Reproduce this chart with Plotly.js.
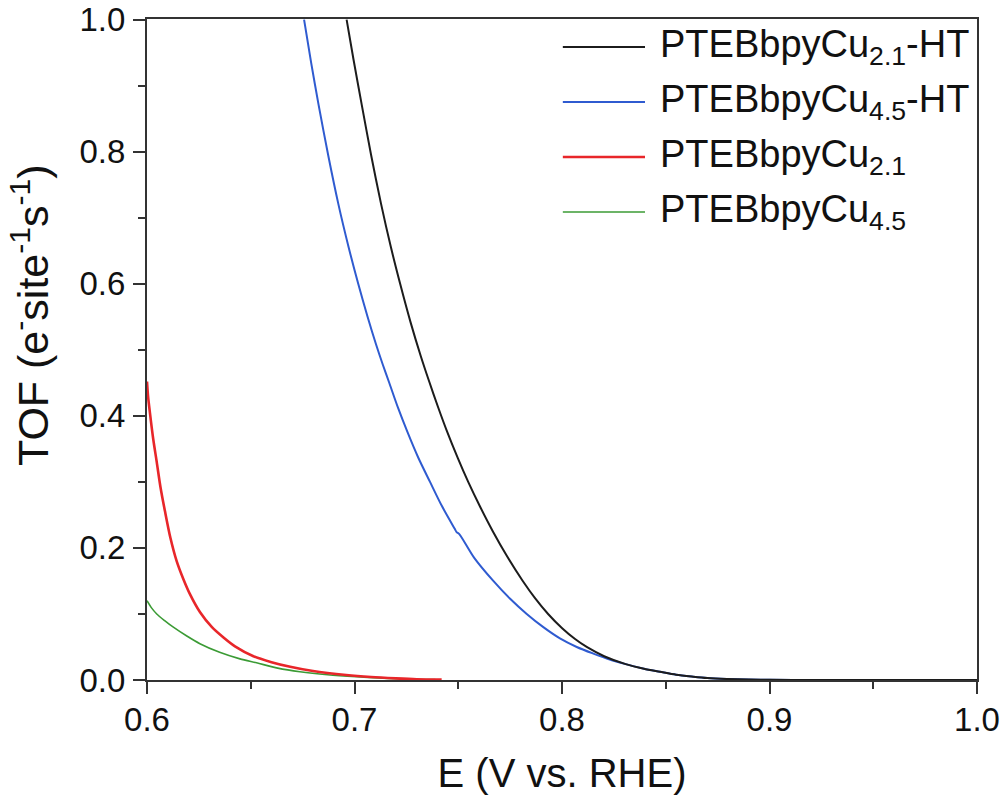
<!DOCTYPE html>
<html>
<head>
<meta charset="utf-8">
<script src="https://cdn.plot.ly/plotly-3.0.1.min.js"></script>
<style>html,body{margin:0;padding:0;background:#fff;}#chart{width:1000px;height:800px;}</style>
</head>
<body>
<div id="chart"></div>
<script>
// Series names (legend labels)
const seriesNames = [
  'PTEBbpyCu<sub>2.1</sub>-HT',
  'PTEBbpyCu<sub>4.5</sub>-HT',
  'PTEBbpyCu<sub>2.1</sub>',
  'PTEBbpyCu<sub>4.5</sub>'
];
const seriesColors = ['#1c1c1c', '#2f5bd0', '#e8262a', '#3b9b35'];
const xTitle = 'E (V vs. RHE)';
const yTitle = 'TOF (e<sup>-</sup>site<sup>-1</sup>s<sup>-1</sup>)';

// PTEBbpyCu2.1-HT
const eHT21 = [0.6962, 0.6995, 0.7035, 0.7080, 0.7128, 0.7175, 0.7220, 0.7270, 0.7320, 0.7360, 0.7403, 0.7444, 0.7498, 0.7548, 0.7606, 0.7667, 0.7736, 0.7811, 0.7870, 0.7933, 0.8002, 0.8063, 0.8119, 0.8203, 0.8307, 0.8395, 0.8472, 0.8550, 0.8633, 0.8700, 0.8794, 0.8900, 0.9000, 0.9200, 0.9500, 1.0000];
const tofHT21 = [1.000, 0.940, 0.871, 0.795, 0.721, 0.656, 0.600, 0.542, 0.490, 0.452, 0.413, 0.378, 0.336, 0.300, 0.262, 0.225, 0.187, 0.150, 0.124, 0.100, 0.078, 0.062, 0.050, 0.036, 0.024, 0.017, 0.0125, 0.008, 0.005, 0.003, 0.0015, 0.0006, 0.0003, 0.0001, 0.0, 0.0];

// PTEBbpyCu4.5-HT
const eHT45 = [0.6757, 0.6791, 0.6827, 0.6873, 0.6922, 0.6972, 0.7018, 0.7063, 0.7104, 0.7137, 0.7167, 0.7210, 0.7256, 0.7307, 0.7364, 0.7422, 0.7483, 0.7492, 0.7505, 0.7577, 0.7669, 0.7750, 0.7830, 0.7910, 0.7990, 0.8071, 0.8151, 0.8230, 0.8307, 0.8395, 0.8472, 0.8550, 0.8633, 0.8700, 0.8794, 0.8900, 0.9000, 0.9200, 0.9500, 1.0000];
const tofHT45 = [1.000, 0.935, 0.871, 0.795, 0.721, 0.655, 0.600, 0.550, 0.508, 0.477, 0.4505, 0.412, 0.375, 0.337, 0.300, 0.263, 0.229, 0.224, 0.221, 0.185, 0.150, 0.123, 0.100, 0.080, 0.063, 0.050, 0.040, 0.031, 0.024, 0.017, 0.0125, 0.008, 0.005, 0.003, 0.0015, 0.0006, 0.0003, 0.0001, 0.0, 0.0];

// PTEBbpyCu2.1
const e21 = [0.6000, 0.6005, 0.6014, 0.6030, 0.6047, 0.6065, 0.6087, 0.6113, 0.6143, 0.6175, 0.6207, 0.6255, 0.6313, 0.6370, 0.6424, 0.6513, 0.6600, 0.6690, 0.6800, 0.6960, 0.7080, 0.7200, 0.7300, 0.7420];
const tof21 = [0.452, 0.430, 0.405, 0.365, 0.330, 0.292, 0.255, 0.215, 0.180, 0.153, 0.130, 0.103, 0.080, 0.064, 0.051, 0.036, 0.027, 0.020, 0.0135, 0.0075, 0.0045, 0.0025, 0.0012, 0.0005];

// PTEBbpyCu4.5
const e45 = [0.6000, 0.6020, 0.6047, 0.6085, 0.6127, 0.6190, 0.6255, 0.6350, 0.6448, 0.6528, 0.6630, 0.6737, 0.6870, 0.7010, 0.7200, 0.7390];
const tof45 = [0.120, 0.110, 0.100, 0.090, 0.080, 0.067, 0.055, 0.042, 0.032, 0.026, 0.018, 0.0125, 0.008, 0.005, 0.002, 0.0005];

// Axis ticks
const xTickVals = [0.6, 0.7, 0.8, 0.9, 1.0];
const xTickText = ['0.6', '0.7', '0.8', '0.9', '1.0'];
const yTickVals = [0.0, 0.2, 0.4, 0.6, 0.8, 1.0];
const yTickText = ['0.0', '0.2', '0.4', '0.6', '0.8', '1.0'];

const lineWidths = [2, 2, 2.6, 1.6];
const FONT = 'Liberation Sans, Arial, sans-serif';

const traces = [
  {x: e45, y: tof45, idx: 3},
  {x: e21, y: tof21, idx: 2},
  {x: eHT45, y: tofHT45, idx: 1},
  {x: eHT21, y: tofHT21, idx: 0}
].map(s => ({
  type: 'scatter', mode: 'lines', x: s.x, y: s.y,
  name: seriesNames[s.idx],
  line: {color: seriesColors[s.idx], width: lineWidths[s.idx], shape: 'spline', smoothing: 0.8},
  showlegend: false, hoverinfo: 'x+y'
}));

// Manual legend (long line samples like the original)
const legendRowsY = [0.9576, 0.8744, 0.7912, 0.7080];
const shapes = [];
const annotations = [];
seriesNames.forEach((nm, i) => {
  shapes.push({type: 'line', xref: 'paper', yref: 'paper', x0: 0.501, x1: 0.600, y0: legendRowsY[i], y1: legendRowsY[i],
    line: {color: seriesColors[i], width: lineWidths[i]}});
  annotations.push({xref: 'paper', yref: 'paper', x: 0.616, y: legendRowsY[i], xanchor: 'left', yanchor: 'middle',
    text: nm, showarrow: false, font: {family: FONT, size: 38, color: '#111'}});
});
// y-axis title (placed as in the original, slightly above centre)
annotations.push({xref: 'paper', yref: 'paper', x: -0.141, y: 0.552, xanchor: 'center', yanchor: 'middle',
  textangle: -90, text: yTitle, showarrow: false, font: {family: FONT, size: 43, color: '#111'}});

const axisCommon = {
  showline: true, linecolor: '#333', linewidth: 2, mirror: true,
  ticks: 'outside', ticklen: 12, tickwidth: 2, tickcolor: '#333',
  showgrid: false, zeroline: false, ticklabeloverflow: 'allow',
  tickfont: {family: FONT, size: 33, color: '#111'}
};

const layout = {
  width: 1000, height: 800,
  margin: {l: 147, r: 23, t: 19, b: 120, pad: 0},
  paper_bgcolor: '#ffffff', plot_bgcolor: '#ffffff',
  xaxis: Object.assign({}, axisCommon, {
    range: [0.6, 1.0], tickvals: xTickVals, ticktext: xTickText,
    ticklabelstandoff: -3,
    minor: {dtick: 0.05, tick0: 0.6, ticks: 'outside', ticklen: 7, tickwidth: 2, tickcolor: '#333', showgrid: false},
    title: {text: xTitle, standoff: 22, font: {family: FONT, size: 40, color: '#111'}}
  }),
  yaxis: Object.assign({}, axisCommon, {
    range: [0, 1.001], tickvals: yTickVals, ticktext: yTickText,
    ticklabelstandoff: 1,
    minor: {dtick: 0.1, tick0: 0, ticks: 'outside', ticklen: 7, tickwidth: 2, tickcolor: '#333', showgrid: false}
  }),
  shapes: shapes,
  annotations: annotations,
  showlegend: false
};

Plotly.newPlot('chart', traces, layout, {displayModeBar: false, staticPlot: true});
</script>
</body>
</html>
